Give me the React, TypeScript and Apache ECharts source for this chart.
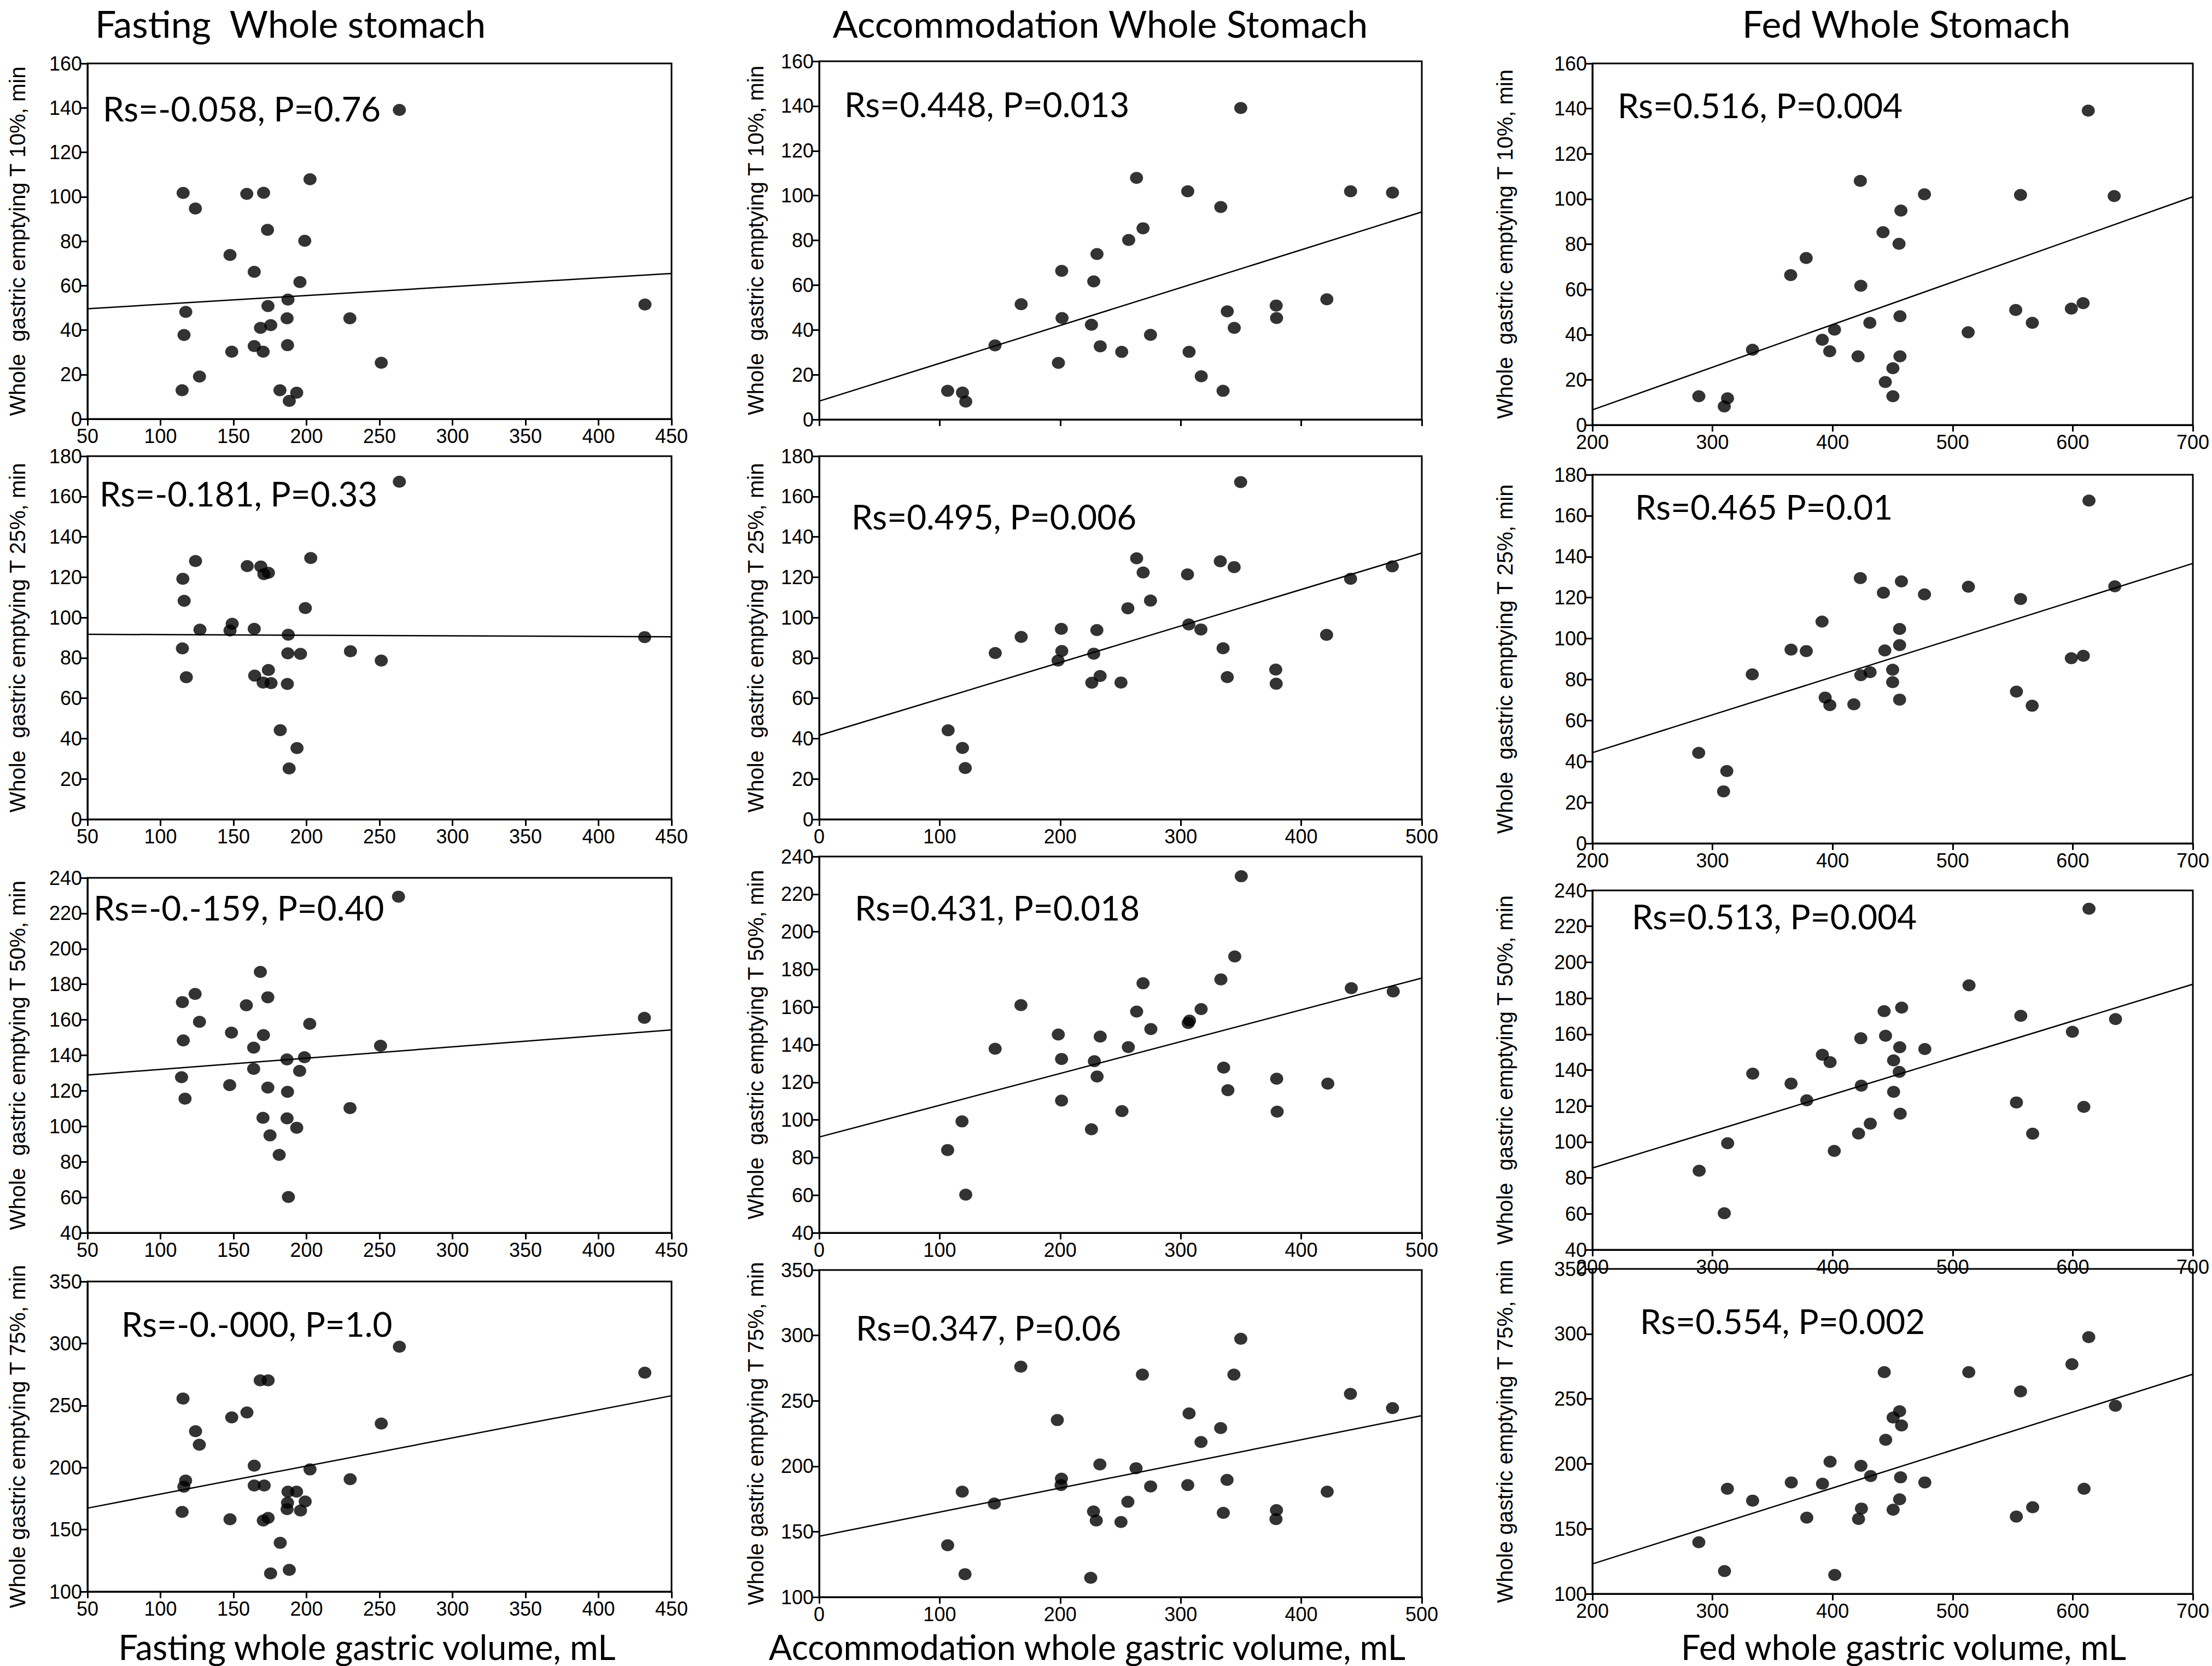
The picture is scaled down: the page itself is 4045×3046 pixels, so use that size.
import React, { useEffect, useRef } from "react";
import * as echarts from "echarts";

// ---------- Column titles / axis titles ----------
const COLUMN_TITLES = ["Fasting  Whole stomach", "Accommodation Whole Stomach", "Fed Whole Stomach"];
const X_TITLES = ["Fasting whole gastric volume, mL", "Accommodation whole gastric volume, mL", "Fed whole gastric volume, mL"];
const Y_TITLES = [
  "Whole  gastric emptying T 10%, min",
  "Whole  gastric emptying T 25%, min",
  "Whole  gastric emptying T 50%, min",
  "Whole gastric emptying T 75%, min",
];
const STATS = [
  ["Rs=-0.058, P=0.76", "Rs=0.448, P=0.013", "Rs=0.516, P=0.004"],
  ["Rs=-0.181, P=0.33", "Rs=0.495, P=0.006", "Rs=0.465 P=0.01"],
  ["Rs=-0.-159, P=0.40", "Rs=0.431, P=0.018", "Rs=0.513, P=0.004"],
  ["Rs=-0.-000, P=1.0", "Rs=0.347, P=0.06", "Rs=0.554, P=0.002"],
];

// x-axis ranges per column: [min, max, interval]
const X_RANGES = [[50, 450, 50], [0, 500, 100], [200, 700, 100]];
// y-axis ranges per row: [min, max, interval]
const Y_RANGES = [[0, 160, 20], [0, 180, 20], [40, 240, 20], [100, 350, 50]];

// ---------- Data: T10 ----------
const FAST_T10_X = [263.6,115.5,159.1,170.6,202.4,123.9,173.3,198.8,147.6,164.2,195.5,187.3,173.6,117.3,186.7,229.7,431.8,175.5,168.5,116.1,164.2,187.0,148.8,170.3,251.2,126.7,114.8,181.8,193.3,188.2];
const FAST_T10_Y = [139.1,101.7,101.3,101.8,107.9,94.7,85.1,80.2,73.8,66.2,61.6,53.7,50.8,48.2,45.3,45.3,51.5,42.2,41.0,37.8,32.8,33.2,30.3,30.3,25.3,19.1,12.9,12.9,11.8,8.1];
const FAST_T10_FIT = [49.6, 65.5];

const ACC_T10_X = [349.8,263.3,305.8,440.9,475.7,333.2,268.7,256.8,230.5,201.2,227.8,167.6,421.2,379.2,338.6,201.5,379.5,225.9,344.4,274.9,145.9,233.2,251.0,306.9,198.5,317.0,106.6,118.9,335.1,121.6];
const ACC_T10_Y = [139.1,107.9,101.9,101.9,101.3,94.9,85.4,80.2,73.9,66.4,61.7,51.5,53.7,50.9,48.3,45.3,45.3,42.3,40.9,37.8,33.1,32.7,30.2,30.2,25.3,19.3,12.8,12.0,12.8,8.0];
const ACC_T10_FIT = [8.2, 92.7];

const FED_T10_X = [612.9,423.1,476.5,556.5,634.5,456.9,442.0,455.3,378.0,365.1,423.5,552.5,598.8,608.6,456.1,566.3,431.0,401.6,512.9,391.4,333.3,397.6,421.2,456.1,450.2,443.9,288.6,312.5,450.2,309.8];
const FED_T10_Y = [139.1,108.0,102.1,101.8,101.3,94.9,85.3,80.2,73.9,66.3,61.6,50.9,51.5,53.9,48.1,45.2,45.2,42.2,41.0,37.7,33.3,32.6,30.4,30.4,25.1,19.0,12.7,11.8,12.7,8.2];
const FED_T10_FIT = [6.7, 101.0];

// ---------- Data: T25 ----------
const FAST_T25_X = [263.6,124.0,202.9,159.4,168.7,173.9,170.8,115.3,116.2,199.2,149.1,147.6,127.0,164.2,187.5,431.6,115.0,230.1,187.2,195.9,251.2,173.9,164.5,117.7,170.3,175.7,186.9,182.0,193.5,188.1];
const FAST_T25_Y = [167.3,128.0,129.5,125.5,125.3,122.2,121.5,119.2,108.3,104.7,96.9,93.6,94.0,94.4,91.5,90.3,84.7,83.3,82.3,82.0,78.7,74.0,71.2,70.4,67.8,67.5,67.1,44.2,35.3,25.2];
const FAST_T25_FIT = [91.7, 90.5];

const ACC_T25_X = [349.7,263.4,332.8,344.3,475.5,268.8,305.6,440.9,274.9,256.1,306.7,316.7,200.9,230.4,421.0,167.6,335.1,201.3,146.1,227.8,198.2,378.8,233.1,338.6,226.2,250.4,379.2,107.0,118.9,121.2];
const ACC_T25_Y = [167.1,129.4,127.9,125.0,125.4,122.3,121.4,119.2,108.4,104.6,96.6,94.1,94.4,93.8,91.4,90.4,84.8,83.4,82.4,82.1,78.7,74.2,71.0,70.5,67.7,67.8,67.2,44.1,35.4,25.4];
const ACC_T25_FIT = [41.6, 132.0];

const FED_T25_X = [613.5,423.1,457.3,513.1,635.0,442.3,476.5,556.5,391.2,455.8,455.8,365.4,378.1,443.5,608.8,598.8,450.0,431.2,333.1,423.5,450.0,553.1,393.8,455.8,397.7,417.7,566.2,288.5,311.9,309.2];
const FED_T25_Y = [167.4,129.5,127.9,125.3,125.5,122.4,121.6,119.3,108.3,104.7,96.8,94.6,93.9,94.2,91.6,90.4,84.8,83.6,82.5,82.1,78.7,74.1,71.2,70.2,67.5,67.9,67.2,44.2,35.3,25.4];
const FED_T25_FIT = [44.3, 136.7];

// ---------- Data: T50 ----------
const FAST_T50_X = [263.0,168.4,123.7,173.5,115.0,158.8,431.4,126.7,202.2,148.6,170.5,115.6,250.7,163.8,198.6,186.6,163.8,195.3,114.4,147.4,173.5,187.0,116.8,229.8,170.2,186.7,193.3,175.0,181.3,187.6];
const FAST_T50_Y = [229.4,187.0,174.6,172.7,170.0,168.2,161.1,158.9,157.7,152.8,151.4,148.4,145.4,144.3,138.9,137.7,132.4,131.2,127.7,123.2,121.8,119.4,115.6,110.3,104.8,104.5,99.2,94.9,83.9,60.2];
const FAST_T50_FIT = [128.9, 154.3];

const ACC_T50_X = [350.2,344.8,333.3,268.7,441.5,476.3,167.4,263.4,316.9,307.3,306.2,275.2,198.4,233.2,256.5,146.0,201.1,228.3,335.6,230.6,379.6,422.0,339.1,201.1,251.2,380.0,118.5,225.9,106.6,121.6];
const ACC_T50_Y = [229.5,186.9,174.7,172.6,170.0,168.3,161.0,157.6,158.9,152.8,151.5,148.3,145.4,144.3,138.7,137.8,132.4,131.2,127.8,123.1,121.9,119.3,115.8,110.3,104.7,104.4,99.2,95.0,84.0,60.3];
const ACC_T50_FIT = [90.9, 175.4];

const FED_T50_X = [613.5,513.6,457.5,442.9,556.7,635.6,599.7,444.1,423.5,455.9,476.8,391.5,397.9,450.8,455.5,333.5,365.4,423.9,450.8,378.5,553.1,609.2,456.3,431.4,421.6,566.6,312.6,401.4,288.9,309.8];
const FED_T50_Y = [229.8,187.2,174.8,172.8,170.2,168.4,161.3,159.1,157.7,152.7,151.7,148.5,144.4,145.4,139.0,138.0,132.5,131.3,127.9,123.2,122.0,119.5,115.7,110.2,104.7,104.6,99.3,95.0,84.0,60.3];
const FED_T50_FIT = [85.5, 187.8];

// ---------- Data: T75 ----------
const FAST_T75_X = [263.6,431.7,168.3,173.7,115.4,159.2,148.8,251.2,124.0,126.6,164.2,202.4,117.2,229.9,116.0,164.2,171.0,187.3,193.2,199.1,187.0,186.7,195.9,114.8,147.6,170.4,173.7,182.0,188.2,175.4];
const FAST_T75_Y = [297.4,276.5,270.3,270.3,255.6,244.4,240.4,235.5,229.3,218.4,201.5,198.5,189.5,190.6,184.6,185.5,185.5,180.6,180.6,172.6,171.6,166.5,165.4,164.3,158.3,157.3,159.4,139.3,117.5,114.7];
const FAST_T75_FIT = [167.3, 257.9];

const ACC_T75_X = [349.8,167.3,268.2,344.1,440.8,475.7,306.9,197.6,333.1,316.8,232.9,262.9,201.0,338.4,200.7,275.0,305.8,118.7,421.5,145.3,256.1,379.4,227.6,335.3,229.9,250.4,379.0,106.6,121.0,225.3];
const ACC_T75_Y = [297.4,276.1,270.0,270.0,255.3,244.4,240.4,235.3,229.2,218.5,201.4,198.5,190.5,189.6,185.6,184.6,185.6,180.6,180.6,171.5,172.8,166.5,165.4,164.4,158.5,157.4,159.6,139.6,117.5,114.7];
const ACC_T75_FIT = [146.5, 238.7];

const FED_T75_X = [613.3,599.3,443.0,513.4,556.5,635.5,455.8,450.4,457.4,444.2,397.9,423.6,431.7,456.6,365.6,391.6,476.8,312.4,609.4,333.4,455.8,566.6,424.0,450.4,553.0,378.5,421.6,288.6,310.0,401.8];
const FED_T75_Y = [297.5,276.7,270.6,270.6,255.7,244.7,240.5,235.6,229.5,218.5,201.6,198.5,190.6,189.6,185.7,184.7,185.7,180.8,180.8,171.7,172.7,166.6,165.6,164.7,159.4,158.6,157.6,139.7,117.5,114.5];
const FED_T75_FIT = [123.0, 269.0];

const PANEL_DATA = [
  [[FAST_T10_X, FAST_T10_Y, FAST_T10_FIT], [ACC_T10_X, ACC_T10_Y, ACC_T10_FIT], [FED_T10_X, FED_T10_Y, FED_T10_FIT]],
  [[FAST_T25_X, FAST_T25_Y, FAST_T25_FIT], [ACC_T25_X, ACC_T25_Y, ACC_T25_FIT], [FED_T25_X, FED_T25_Y, FED_T25_FIT]],
  [[FAST_T50_X, FAST_T50_Y, FAST_T50_FIT], [ACC_T50_X, ACC_T50_Y, ACC_T50_FIT], [FED_T50_X, FED_T50_Y, FED_T50_FIT]],
  [[FAST_T75_X, FAST_T75_Y, FAST_T75_FIT], [ACC_T75_X, ACC_T75_Y, ACC_T75_FIT], [FED_T75_X, FED_T75_Y, FED_T75_FIT]],
];

// ---------- Layout (pixels) ----------
// [left, top, right, bottom] for each row/column
const GRID_RECTS = [
  [[160, 116, 1228, 766], [1498, 112, 2600, 767], [2912, 116, 4010, 777]],
  [[160, 834, 1228, 1498], [1498, 834, 2600, 1498], [2912, 868, 4010, 1542]],
  [[160, 1605, 1228, 2254], [1498, 1566, 2600, 2254], [2912, 1628, 4010, 2285]],
  [[160, 2343, 1228, 2910], [1498, 2322, 2600, 2920], [2912, 2320, 4010, 2914]],
];
const NAME_GAPS = [108, 96, 140];
const STAT_POS = [
  [[188, 198], [1544, 190], [2958, 192]],
  [[182, 902], [1557, 944], [2990, 926]],
  [[171, 1659], [1563, 1659], [2984, 1675]],
  [[222, 2420], [1565, 2427], [2999, 2415]],
];
const TITLE_POS = [[531, 8], [2012, 8], [3486, 8]];
const TITLE_SIZE = 68;
const XTITLE_POS = [[671, 3010], [1988, 3010], [3481, 3010]];
const XTITLE_SIZE = 63;

const TICK_FONT = "'Liberation Sans Narrow', 'Arial Narrow', 'Liberation Sans', sans-serif";
const TITLE_FONT = "Lato, 'Noto Sans', sans-serif";

export default function App() {
  const ref = useRef<HTMLDivElement>(null);
  useEffect(() => {
    if (!ref.current) return;
    const chart = echarts.init(ref.current, undefined, { renderer: "svg" });
    const grid: any[] = [];
    const xAxis: any[] = [];
    const yAxis: any[] = [];
    const series: any[] = [];
    const graphic: any[] = [];
    let idx = 0;
    for (let r = 0; r < 4; r++) {
      for (let c = 0; c < 3; c++) {
        const [l, t, rr, b] = GRID_RECTS[r][c];
        const [xmin, xmax, xint] = X_RANGES[c];
        const [ymin, ymax, yint] = Y_RANGES[r];
        const [xs, ys, fit] = PANEL_DATA[r][c];
        grid.push({
          left: l, top: t, width: rr - l, height: b - t,
          show: true, borderColor: "#000", borderWidth: 3, backgroundColor: "transparent",
        });
        const lineStyle = { color: "#000", width: 3 };
        xAxis.push({
          gridIndex: idx, type: "value", min: xmin, max: xmax, interval: xint,
          axisLine: { show: true, onZero: false, lineStyle },
          axisTick: { show: true, length: 12, lineStyle },
          splitLine: { show: false },
          axisLabel: {
            show: !(r === 0 && c === 1), fontSize: 36, color: "#000", margin: 13,
            fontFamily: TICK_FONT, showMinLabel: true, showMaxLabel: true,
          },
        });
        yAxis.push({
          gridIndex: idx, type: "value", min: ymin, max: ymax, interval: yint,
          axisLine: { show: true, onZero: false, lineStyle },
          axisTick: { show: true, length: 12, lineStyle },
          splitLine: { show: false },
          axisLabel: { fontSize: 36, color: "#000", margin: 10, fontFamily: TICK_FONT, showMinLabel: true, showMaxLabel: true },
          name: Y_TITLES[r], nameLocation: "middle", nameGap: NAME_GAPS[c],
          nameTextStyle: { fontSize: 40, color: "#000", fontFamily: "'Liberation Sans', Arial, sans-serif" },
        });
        series.push({
          type: "scatter", xAxisIndex: idx, yAxisIndex: idx,
          data: xs.map((x: number, i: number) => [x, ys[i]]),
          symbol: "circle", symbolSize: [24, 22],
          itemStyle: { color: "#000" },
          silent: true,
        });
        series.push({
          type: "line", xAxisIndex: idx, yAxisIndex: idx,
          data: [[xmin, fit[0]], [xmax, fit[1]]],
          symbol: "none", lineStyle: { color: "#000", width: 2.5 },
          silent: true,
        });
        const [sx, sy] = STAT_POS[r][c];
        graphic.push({
          type: "text", x: sx, y: sy, z: 10,
          style: {
            text: STATS[r][c], fontSize: 62, fontFamily: TITLE_FONT, fill: "#000",
            textAlign: "left", align: "left", textVerticalAlign: "middle", verticalAlign: "middle",
          },
        });
        idx++;
      }
    }
    for (let c = 0; c < 3; c++) {
      graphic.push({
        type: "text", x: TITLE_POS[c][0], y: TITLE_POS[c][1],
        style: {
          text: COLUMN_TITLES[c], fontSize: TITLE_SIZE, fontFamily: TITLE_FONT, fill: "#000",
          textAlign: "center", align: "center", textVerticalAlign: "top", verticalAlign: "top",
        },
      });
      graphic.push({
        type: "text", x: XTITLE_POS[c][0], y: XTITLE_POS[c][1],
        style: {
          text: X_TITLES[c], fontSize: XTITLE_SIZE, lineHeight: 64, fontFamily: TITLE_FONT, fill: "#000",
          textAlign: "center", align: "center", textVerticalAlign: "middle", verticalAlign: "middle",
        },
      });
    }
    chart.setOption({
      animation: false,
      backgroundColor: "#fff",
      grid, xAxis, yAxis, series, graphic,
    });
    return () => chart.dispose();
  }, []);
  return (
    <div
      ref={ref}
      style={{ position: "absolute", left: 0, top: 0, width: 4045, height: 3046 }}
    />
  );
}
